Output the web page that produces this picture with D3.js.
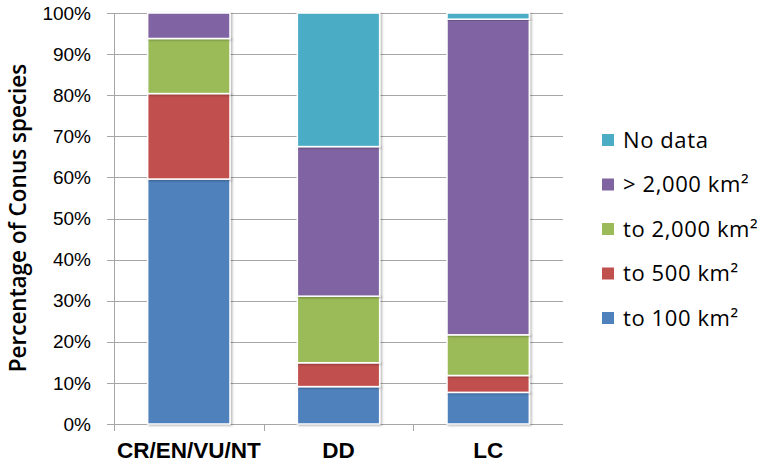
<!DOCTYPE html>
<html><head><meta charset="utf-8">
<script src="https://cdn.jsdelivr.net/npm/d3@7"></script>
<style>body{margin:0;background:#fff}svg{display:block}</style>
</head><body>
<svg id="c" width="766" height="463"></svg>
<script>
const categories = ["CR/EN/VU/NT", "DD", "LC"];
const seriesNames = ["to 100 km²", "to 500 km²", "to 2,000 km²", "> 2,000 km²", "No data"];
const to100 = [59.6, 9.1, 7.7];
const to500 = [20.8, 5.8, 4.1];
const to2000 = [13.4, 16.2, 9.9];
const over2000 = [6.2, 36.4, 76.8];
const noData = [0, 32.5, 1.5];
const yTicks = [0, 10, 20, 30, 40, 50, 60, 70, 80, 90, 100];
const colors = ["#4F81BD", "#C0504D", "#9BBB59", "#8064A2", "#4BACC6"];

const seriesVals = [to100, to500, to2000, over2000, noData];
const rows = categories.map((c, i) => {
  const r = {cat: c};
  seriesNames.forEach((s, j) => r[s] = seriesVals[j][i]);
  return r;
});
const stacked = d3.stack().keys(seriesNames)(rows);

const svg = d3.select("#c");
const m = {left: 114, right: 563, top: 13, bottom: 424};
const x = d3.scaleBand().domain(categories).range([m.left, m.right]).paddingInner(0.45).paddingOuter(0.225);
const xb = d3.scaleBand().domain(categories).range([m.left, m.right]);
const y = d3.scaleLinear().domain([0, 100]).range([m.bottom, m.top]);

const defs = svg.append("defs");
const f = defs.append("filter").attr("id", "sh").attr("x", "-10%").attr("y", "-10%").attr("width", "130%").attr("height", "130%");
f.append("feDropShadow").attr("dx", 1.5).attr("dy", 1).attr("stdDeviation", 1.2).attr("flood-color", "#000").attr("flood-opacity", 0.3);

// gridlines
svg.append("g").selectAll("line").data(yTicks).join("line")
  .attr("x1", m.left - 7).attr("x2", m.right)
  .attr("y1", d => Math.round(y(d)) + 0.5).attr("y2", d => Math.round(y(d)) + 0.5)
  .attr("stroke", "#A6A6A6").attr("stroke-width", 1);

// y axis line
svg.append("line").attr("x1", m.left + 0.5).attr("x2", m.left + 0.5)
  .attr("y1", m.top).attr("y2", m.bottom + 7).attr("stroke", "#A6A6A6");
// category ticks
svg.append("g").selectAll("line").data(categories.slice(1)).join("line")
  .attr("x1", d => Math.round(xb(d)) + 0.5).attr("x2", d => Math.round(xb(d)) + 0.5)
  .attr("y1", m.bottom).attr("y2", m.bottom + 7).attr("stroke", "#A6A6A6");

// y tick labels
svg.append("g").selectAll("text").data(yTicks).join("text")
  .attr("x", 91).attr("y", d => y(d)).attr("dy", "0.35em")
  .attr("text-anchor", "end")
  .attr("font-family", "Liberation Sans, Arial, sans-serif").attr("font-size", 19)
  .attr("fill", "#000").text(d => d + "%");

// bars
svg.append("g").selectAll("g").data(stacked).join("g")
  .attr("fill", (d, i) => colors[i])
  .selectAll("rect").data(d => d.filter(p => p[1] - p[0] > 0)).join("rect")
  .attr("x", d => x(d.data.cat)).attr("width", x.bandwidth())
  .attr("y", d => y(d[1])).attr("height", d => y(d[0]) - y(d[1]))
  .attr("stroke", "#fff").attr("stroke-width", 1.5)
  .attr("filter", "url(#sh)");

// x labels
svg.append("g").selectAll("text").data(categories).join("text")
  .attr("x", d => xb(d) + xb.bandwidth() / 2).attr("y", 458)
  .attr("text-anchor", "middle")
  .attr("font-family", "Liberation Sans, Arial, sans-serif").attr("font-size", 22.5).attr("font-weight", "bold")
  .attr("fill", "#000").text(d => d);

// y title
svg.append("text").attr("transform", "translate(26,218) rotate(-90)")
  .attr("text-anchor", "middle")
  .attr("font-family", "Open Sans, sans-serif").attr("font-size", 22.5).attr("font-weight", 600)
  .attr("fill", "#000").text("Percentage of Conus species");

// legend
const legendOrder = seriesNames.slice().reverse();
const lg = svg.append("g").selectAll("g").data(legendOrder).join("g")
  .attr("transform", (d, i) => `translate(602,${140 + i * 44.5})`);
lg.append("rect").attr("x", 0).attr("y", -6).attr("width", 12).attr("height", 12)
  .attr("fill", d => colors[seriesNames.indexOf(d)]);
lg.append("text").attr("x", 21).attr("y", 0).attr("dy", "0.35em")
  .attr("font-family", "Open Sans, sans-serif").attr("font-size", 22).attr("letter-spacing", 0.6)
  .attr("fill", "#000").text(d => d);
</script>
</body></html>
